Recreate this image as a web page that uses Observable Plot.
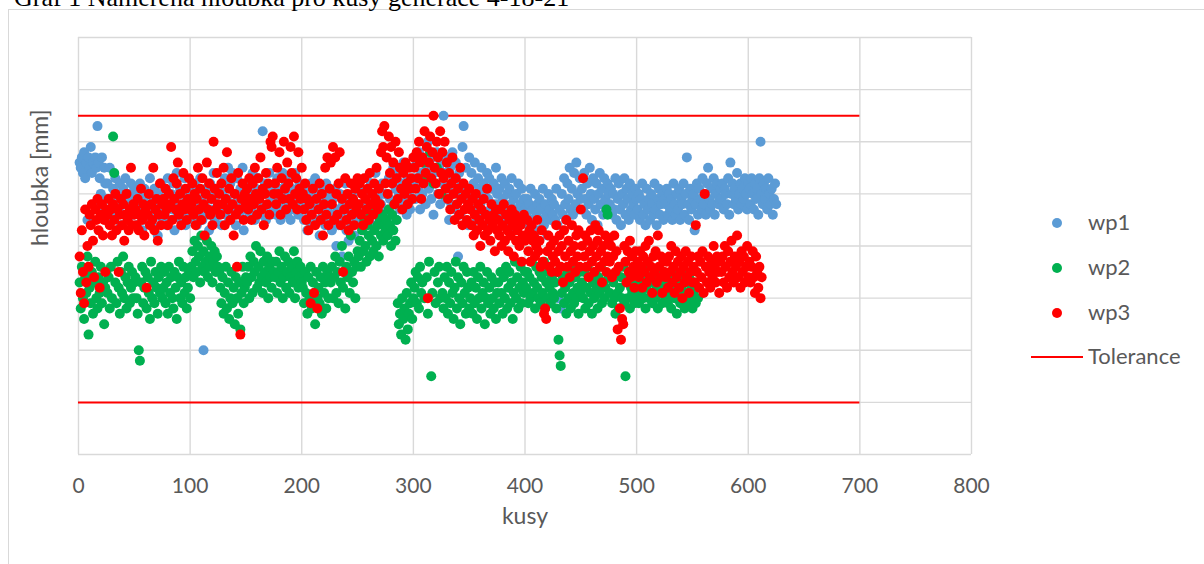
<!DOCTYPE html>
<html>
<head>
<meta charset="utf-8">
<script src="https://cdn.jsdelivr.net/npm/d3@7"></script>
<script src="https://cdn.jsdelivr.net/npm/@observablehq/plot@0.6"></script>
<style>
  html, body { margin: 0; padding: 0; background: #fff; overflow: hidden; }
  body { width: 1204px; height: 564px; position: relative; }
  #title { position: absolute; left: 14px; top: -15px; font-family: "Liberation Serif", serif; font-size: 26px; line-height: 1; color: #000; white-space: nowrap; }
  #frame { position: absolute; left: 8px; top: 9px; width: 1300px; height: 700px; border: 1px solid #d9d9d9; }
  #chart { position: absolute; left: 0; top: 0; }
  .leg { position: absolute; font-family: Lato, sans-serif; font-size: 22px; color: #595959; line-height: 1; }
  .dot { position: absolute; width: 10px; height: 10px; border-radius: 50%; }
  .line { position: absolute; height: 2px; background: #ff0000; }
</style>
</head>
<body>
<div id="frame"></div>
<div id="title">Graf 1 Naměřená hloubka pro kusy generace 4-18-21</div>
<div id="chart"></div>
<div id="legend"></div>
<script>
const seriesNames = ["wp1", "wp2", "wp3"];
const seriesColors = ["#5b9bd5", "#00b050", "#ff0000"];
const toleranceName = "Tolerance";
const toleranceValues = [10, 65];
const toleranceEnd = 700;
const xTicks = [0, 100, 200, 300, 400, 500, 600, 700, 800];
const yGrid = [0, 10, 20, 30, 40, 50, 60, 70, 80];
const xLabel = "kusy";
const yLabel = "hloubka [mm]";

const wp1 = [
56,55,57,54,58,53,56,45,57,55,59,54,56,48,57,55,63,56,53,50,57,47,55,52,49,
52,47,55,49,45,51,48,53,46,50,47,52,44,49,51,46,53,48,45,50,47,52,49,46,51,
48,44,50,46,52,47,43,49,51,45,48,50,46,53,47,44,49,51,46,48,42,50,47,52,45,
49,46,51,44,53,48,45,50,47,52,43,49,54,46,48,51,45,50,47,53,44,49,46,51,48,
47,50,45,52,48,44,51,46,53,49,45,20,48,51,46,50,43,52,47,49,54,45,50,46,48,
51,47,44,50,48,53,46,49,55,45,52,48,54,47,50,44,53,49,46,51,48,55,43,50,47,
49,52,46,50,47,54,48,45,51,49,53,46,50,48,62,47,52,45,50,48,54,46,51,49,47,
50,46,53,48,51,45,49,54,47,50,52,46,48,53,45,51,49,47,54,48,50,46,52,49,47,
48,45,51,47,43,50,46,52,44,49,47,53,45,48,50,42,47,51,46,49,44,52,47,45,50,
46,43,49,45,51,40,47,44,50,46,38,48,45,52,43,47,41,49,46,44,50,42,48,45,47,
48,45,51,47,44,50,46,53,48,45,49,52,47,44,50,54,46,49,51,45,48,52,47,50,46,
50,47,53,49,46,52,55,48,51,45,54,50,47,52,49,56,48,51,46,53,50,47,55,49,52,
53,49,56,51,58,47,54,50,57,52,48,55,60,51,53,49,57,46,54,52,58,50,55,48,56,
52,65,54,49,57,51,45,55,48,58,53,47,56,50,38,54,46,52,59,63,49,55,51,44,57,
50,54,47,52,56,49,45,53,51,48,55,46,52,50,44,54,49,53,47,51,45,52,48,55,50,
48,51,46,53,49,45,52,47,50,44,51,48,53,46,49,43,50,47,52,45,48,51,46,49,47,
46,49,44,48,51,45,47,42,50,46,48,43,49,47,45,51,44,48,46,42,50,47,45,49,46,
48,45,51,44,30,47,28,50,46,53,48,45,52,49,55,47,51,46,54,48,56,50,47,53,49,
51,47,54,49,46,52,48,55,50,45,53,49,47,52,44,50,54,48,51,46,53,49,47,52,50,
48,51,46,50,47,53,45,49,52,47,44,50,48,53,46,51,49,45,52,47,50,48,46,51,49,
47,50,45,49,52,46,48,44,51,47,49,45,50,48,46,52,47,44,49,51,46,48,50,45,49,
48,51,46,50,47,49,45,52,48,46,50,47,51,45,49,48,52,46,50,57,48,45,51,47,49,
50,43,48,52,46,51,49,47,53,48,50,46,52,55,49,47,51,48,53,46,50,52,48,49,51,
49,52,47,51,50,48,53,46,56,50,52,48,51,49,54,47,50,52,48,51,49,53,50,47,52,
51,48,53,50,47,52,49,51,46,53,60,50,48,52,49,51,47,53,50,48,51,46,49,52,48
];

const wp2 = [
33,28,36,30,26,34,31,38,23,32,29,35,27,33,37,30,28,34,31,36,29,33,25,32,35,
31,34,28,36,30,61,54,33,29,37,32,27,35,31,38,30,34,28,33,36,29,32,35,30,33,
34,30,27,20,18,33,36,29,32,35,28,34,31,26,37,30,33,29,35,32,27,34,31,36,30,
32,35,29,33,27,36,31,34,30,28,35,32,26,34,37,30,33,29,36,31,34,28,32,35,30,
36,39,34,41,37,35,40,38,33,42,36,39,35,37,41,34,38,36,40,33,37,39,35,38,36,
35,32,29,34,27,31,36,28,33,26,30,35,29,32,25,34,30,27,33,24,31,36,29,32,34,
33,36,30,38,34,31,37,35,40,32,36,33,39,34,31,37,35,33,38,30,36,34,32,37,35,
34,37,31,35,39,33,36,30,34,38,32,35,37,31,34,36,33,39,30,35,37,32,34,36,33,
32,29,35,31,27,34,30,36,28,33,31,25,35,30,32,29,34,27,36,31,33,28,35,30,34,
33,36,30,34,38,31,35,29,37,33,40,32,35,28,36,34,38,31,42,35,33,37,30,36,39,
38,41,36,43,39,45,40,37,44,42,38,46,41,39,43,47,40,44,38,45,42,46,41,44,43,
45,42,47,44,40,46,43,48,41,45,29,25,27,23,30,26,28,22,31,24,27,29,33,26,30,
32,35,29,34,28,36,31,33,56,30,53,34,27,37,58,15,31,52,35,29,55,33,36,30,50,
31,28,34,30,36,27,33,29,35,31,26,32,37,28,34,30,25,33,29,36,31,27,35,32,28,
30,33,27,35,29,32,26,34,30,36,28,31,33,25,30,35,29,32,27,34,30,28,33,26,31,
33,29,35,31,27,34,30,36,28,32,35,29,33,26,31,37,30,34,28,32,36,29,33,31,35,
32,35,29,34,30,37,31,33,28,36,32,30,35,29,34,31,37,28,33,30,35,32,29,34,31,
30,33,28,35,22,19,17,31,34,29,32,27,35,30,33,28,36,31,29,34,30,32,27,35,31,
33,30,35,28,32,36,29,34,31,27,33,30,35,32,28,34,31,36,29,33,30,32,47,46,34,
31,34,29,33,30,27,35,31,28,32,34,30,36,29,15,33,30,34,28,32,31,35,29,33,30,
32,29,34,31,35,30,33,28,32,36,30,34,31,29,33,35,30,32,28,34,31,33,29,35,32,
30,33,29,34,31,28,32,35,30,33,27,31,34,29,32,30,35,28,33,31,29,34,30,32,28,
31,33,29,32,30
];

const wp3 = [
38,31,43,35,29,47,33,40,36,46,44,48,41,34,47,45,49,43,32,46,48,42,45,35,47,
46,49,44,47,42,48,45,50,43,47,35,46,49,44,48,41,46,50,45,43,47,55,44,48,46,
47,44,49,43,46,51,45,48,42,47,32,46,50,44,48,45,55,43,47,49,41,46,52,44,48,
49,46,51,47,44,50,48,59,45,53,49,47,52,56,46,50,44,48,54,47,51,45,49,53,47,
48,52,46,50,44,49,55,47,51,45,53,48,42,50,56,47,52,46,49,44,60,51,47,54,48,
50,46,52,48,55,44,49,58,47,51,45,53,48,42,50,46,36,54,47,23,49,52,45,50,48,
51,47,53,49,45,52,48,55,50,46,53,49,57,47,51,44,50,54,48,52,46,60,59,61,50,
52,48,55,50,58,46,53,49,60,51,47,56,52,49,59,54,48,61,50,53,47,58,51,49,55,
50,47,52,45,49,43,48,29,46,51,31,44,49,28,47,52,45,50,42,48,55,46,57,44,51,
56,48,59,45,57,50,46,52,58,44,49,35,47,53,45,50,43,48,52,46,49,44,51,47,53,
48,52,46,50,44,53,49,47,51,45,54,48,50,46,52,49,55,47,51,48,58,62,59,63,52,
57,50,61,54,59,52,56,48,60,53,49,58,55,51,47,54,50,56,52,48,55,51,53,49,57,
55,51,58,53,60,56,49,57,52,62,54,59,30,56,61,53,58,65,55,52,60,57,50,62,54,
58,53,60,51,56,49,54,47,52,57,50,45,53,48,51,46,55,49,44,52,47,50,45,48,51,
47,44,49,42,46,50,43,48,45,40,47,44,49,42,46,51,43,45,41,48,44,46,39,47,43,
45,42,47,40,44,48,41,46,43,39,45,42,47,44,38,46,41,43,45,40,44,37,42,46,41,
42,45,39,43,37,44,41,42,38,40,45,39,41,36,43,37,27,28,26,39,42,36,40,35,38,
41,37,44,35,39,42,36,40,33,43,38,45,36,41,34,39,44,37,40,35,42,38,43,36,47,
40,53,38,42,36,41,34,39,43,37,40,35,44,38,41,43,36,39,33,40,37,42,35,38,41,
37,40,34,38,42,35,39,24,36,28,22,26,25,40,37,33,39,35,41,34,38,36,32,39,35,
37,34,39,36,32,38,35,40,33,37,41,34,36,31,38,35,39,33,42,36,34,38,31,37,35,
34,37,32,38,35,40,33,36,31,39,34,37,32,35,38,30,36,33,39,34,37,31,35,38,33,
36,33,44,35,38,32,37,34,39,31,50,36,33,38,35,32,37,34,40,36,33,38,35,31,37,
35,38,33,40,36,32,39,34,37,41,35,33,38,36,42,34,37,32,39,35,38,33,36,40,34,
37,33,36,39,34,31,38,35,32,36,30,34
];

const seriesValues = [wp1, wp2, wp3];
const toRows = vals => vals.map((v, i) => ({x: i + 1, y: v}));

const gridStyle = {stroke: "#d9d9d9", strokeOpacity: 1, strokeWidth: 1.4};

const chart = Plot.plot({
  width: 1204,
  height: 564,
  marginLeft: 78,
  marginRight: 233,
  marginTop: 37,
  marginBottom: 110,
  style: {fontFamily: "Lato, sans-serif", color: "#595959", background: "transparent"},
  x: {domain: [0, 800]},
  y: {domain: [0, 80], axis: null},
  marks: [
    Plot.gridX(xTicks, gridStyle),
    Plot.gridY(yGrid, gridStyle),
    Plot.ruleY(toleranceValues, {x1: 0, x2: toleranceEnd, stroke: "#ff0000", strokeWidth: 2}),
    ...seriesValues.map((vals, k) =>
      Plot.dot(toRows(vals), {x: "x", y: "y", r: 5, fill: seriesColors[k], stroke: "none"})
    ),
    Plot.axisX(xTicks, {tickSize: 0, tickPadding: 24, fontSize: 21, label: null}),
    Plot.text([xLabel], {text: d => d, frameAnchor: "bottom", dy: 69, fontSize: 23, fill: "#595959"}),
    Plot.text([yLabel], {text: d => d, frameAnchor: "left", dx: -38, rotate: -90, fontSize: 23, fill: "#595959"})
  ]
});
document.getElementById("chart").appendChild(chart);

// legend
const legend = document.getElementById("legend");
const rowsY = [223, 268, 313];
seriesNames.forEach((name, k) => {
  const dot = document.createElement("div");
  dot.className = "dot";
  dot.style.left = (1057 - 5) + "px";
  dot.style.top = (rowsY[k] - 5) + "px";
  dot.style.background = seriesColors[k];
  legend.appendChild(dot);
  const lab = document.createElement("div");
  lab.className = "leg";
  lab.textContent = name;
  lab.style.left = "1088px";
  lab.style.top = (rowsY[k] - 12) + "px";
  legend.appendChild(lab);
});
const tl = document.createElement("div");
tl.className = "line";
tl.style.left = "1031px"; tl.style.top = "356px"; tl.style.width = "52px";
legend.appendChild(tl);
const tlab = document.createElement("div");
tlab.className = "leg";
tlab.textContent = toleranceName;
tlab.style.left = "1088px"; tlab.style.top = (357 - 12) + "px";
legend.appendChild(tlab);
</script>
</body>
</html>
